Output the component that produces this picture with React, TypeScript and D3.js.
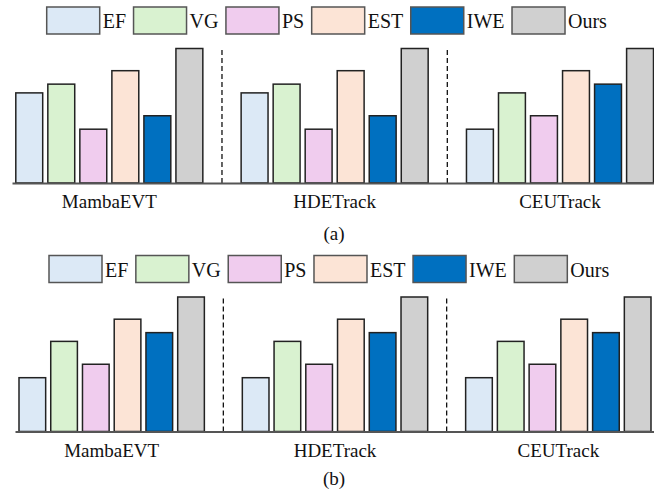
import React, {useRef, useEffect} from 'react';
import * as d3 from 'd3';

const groups = ['MambaEVT', 'HDETrack', 'CEUTrack'];
const methods = ['EF', 'VG', 'PS', 'EST', 'IWE', 'Ours'];
// relative scores (Ours = 100)
const valuesA = [
  [67, 73.5, 40, 83.5, 50, 100],
  [67, 73.5, 40, 83.5, 50, 100],
  [40, 67, 50, 83.5, 73.5, 100],
];
const valuesB = [
  [40, 67, 50, 83.5, 73.5, 100],
  [40, 67, 50, 83.5, 73.5, 100],
  [40, 67, 50, 83.5, 73.5, 100],
];
const panelLabels = ['(a)', '(b)'];

const colors = ['#dce9f6', '#d9f2d0', '#f0ccee', '#fce4d6', '#0070c0', '#d0d0d0'];
const FONT = '"Liberation Serif", "Times New Roman", serif';

export default function App() {
  const svgRef = useRef<SVGSVGElement>(null);

  useEffect(() => {
    document.body.style.margin = '0';
    const w = 654;
    const h = 490;
    const svg = d3.select(svgRef.current)
                  .attr('width', w)
                  .attr('height', h)
                  .style('display', 'block');
    svg.selectAll('*').remove();

    const panels = [
      {values: valuesA, top: 0, x0: 15.8, x1: 653.5, legendX: 46.7, lineX: 12.5, labelY: 240},
      {values: valuesB, top: 248.5, x0: 19, x1: 651, legendX: 49, lineX: 15.5, labelY: 236.5},
    ];

    panels.forEach((p, pi) => {
      const g = svg.append('g').attr('transform', `translate(0,${p.top})`);

      //legend, laid out left to right from the text widths
      let lx = p.legendX;
      methods.forEach((m, i) => {
        g.append('rect')
          .attr('x', lx).attr('y', 7)
          .attr('width', 53).attr('height', 27)
          .attr('fill', colors[i])
          .attr('stroke', '#555')
          .attr('stroke-width', 1.5);
        const t = g.append('text')
          .attr('x', lx + 56).attr('y', 28)
          .attr('font-family', FONT)
          .attr('font-size', 20)
          .attr('fill', '#111')
          .text(m);
        const tw = (t.node() as SVGTextElement).getComputedTextLength();
        lx += 56 + tw + 7.5;
      });

      //scales
      const x0 = d3.scaleBand()
                   .domain(groups)
                   .range([p.x0, p.x1])
                   .paddingInner(0.17);
      const x1 = d3.scaleBand()
                   .domain(methods)
                   .range([0, x0.bandwidth()])
                   .paddingInner(0.16);
      const y = d3.scaleLinear()
                  .domain([0, 100])
                  .range([183, 48.5]);

      //dashed separators between groups
      groups.slice(1).forEach((gr, i) => {
        const prevEnd = (x0(groups[i]) as number) + x0.bandwidth();
        const xm = (prevEnd + (x0(gr) as number)) / 2;
        g.append('line')
          .attr('x1', xm).attr('x2', xm)
          .attr('y1', y(100) + 1.5).attr('y2', y(0))
          .attr('stroke', '#111')
          .attr('stroke-width', 1.3)
          .attr('stroke-dasharray', '5,3');
      });

      //bars
      groups.forEach((gr, gi) => {
        g.append('g')
          .attr('transform', `translate(${x0(gr)},0)`)
          .selectAll('rect')
          .data(p.values[gi])
          .join('rect')
          .attr('x', (v, i) => x1(methods[i]) as number)
          .attr('y', v => y(v))
          .attr('width', x1.bandwidth())
          .attr('height', v => y(0) - y(v))
          .attr('fill', (v, i) => colors[i])
          .attr('stroke', '#222')
          .attr('stroke-width', 1.5);
      });

      //baseline
      g.append('line')
        .attr('x1', p.lineX).attr('x2', w)
        .attr('y1', y(0) + 0.5).attr('y2', y(0) + 0.5)
        .attr('stroke', '#555')
        .attr('stroke-width', 2);

      //group labels
      g.selectAll('.glabel')
        .data(groups)
        .join('text')
        .attr('class', 'glabel')
        .attr('x', d => (x0(d) as number) + x0.bandwidth() / 2)
        .attr('y', 208)
        .attr('text-anchor', 'middle')
        .attr('font-family', FONT)
        .attr('font-size', 19)
        .attr('fill', '#111')
        .text(d => d);

      //panel label
      g.append('text')
        .attr('x', 334)
        .attr('y', p.labelY)
        .attr('text-anchor', 'middle')
        .attr('font-family', FONT)
        .attr('font-size', 19)
        .attr('fill', '#111')
        .text(panelLabels[pi]);
    });
  }, []);

  return (
    <div className="App">
      <svg ref={svgRef}></svg>
    </div>
  );
}
